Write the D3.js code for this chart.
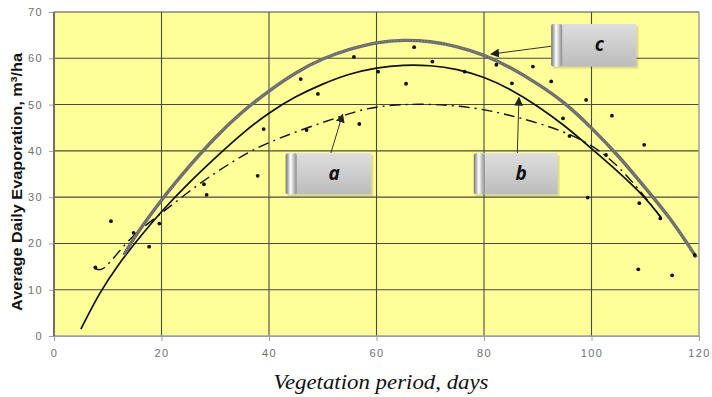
<!DOCTYPE html>
<html>
<head>
<meta charset="utf-8">
<script src="https://cdn.jsdelivr.net/npm/d3@7"></script>
<style>
  body { margin: 0; background: #fff; }
  svg { display: block; }
</style>
</head>
<body>
<div id="chart"></div>
<script>
// values
var xTicks = [0, 20, 40, 60, 80, 100, 120];
var yTicks = [0, 10, 20, 30, 40, 50, 60, 70];

var cX = [13, 15, 20, 25, 30, 35, 40, 45, 50, 55, 60, 65, 70, 75, 80, 85, 90, 95, 100, 105, 110, 115, 119.5];
var cY = [17.5, 21.5, 29.5, 36.5, 43, 48.5, 53, 57, 60, 62, 63.5, 64, 63.7, 62.6, 60.8, 58, 54.5, 50.5, 45, 39, 32, 25, 17];

var bX = [5, 8.5, 12, 15, 20, 25, 30, 35, 40, 45, 50, 55, 60, 65, 70, 75, 80, 85, 90, 95, 100, 105, 110, 113];
var bY = [1.5, 9.5, 15.5, 20, 27, 33, 38.5, 43.8, 48.3, 51.8, 54.5, 56.7, 58, 58.6, 58.5, 57.7, 56, 53.3, 49.7, 45.5, 40.5, 35.5, 30, 25.5];

var aX = [7.6, 8.8, 10.5, 13, 15.4, 20, 27, 33, 38, 47, 55.5, 60, 69, 78.5, 86, 94.5, 102, 108, 113];
var aY = [14.6, 14.0, 16, 19.5, 22.5, 26.5, 33, 37.5, 41, 45, 48.3, 49.7, 50.3, 49.4, 47.4, 44.5, 40.2, 33, 25.5];

var dotX = [7.7, 10.6, 14.8, 17.7, 19.6, 27.9, 28.4, 37.9, 39, 45.9, 47, 49.1, 55.8, 56.8, 60.3, 65.5, 67, 70.4, 76.4, 82.3, 85.2, 89.1, 92.5, 94.7, 95.9, 99, 99.3, 102.7, 103.8, 108.7, 108.9, 109.8, 112.8, 115, 119.2];
var dotY = [14.8, 24.8, 22.3, 19.3, 24.3, 32.8, 30.5, 34.6, 44.7, 55.5, 44.5, 52.3, 60.3, 45.8, 57.1, 54.5, 62.4, 59.3, 57.1, 58.6, 54.6, 58.2, 55, 47, 43.2, 51, 29.9, 39.1, 47.6, 14.4, 28.7, 41.3, 25.4, 13.1, 17.5];

var calloutLabels = ["a", "b", "c"];

var width = 712, height = 397;
var margin = {top: 12, right: 13, bottom: 61, left: 54};
var w = width - margin.left - margin.right;
var h = height - margin.top - margin.bottom;

var svg = d3.select("#chart").append("svg")
  .attr("width", width)
  .attr("height", height);

var defs = svg.append("defs");
var bodyGrad = defs.append("linearGradient").attr("id", "boxBody")
  .attr("x1", 0).attr("y1", 0).attr("x2", 0).attr("y2", 1);
bodyGrad.append("stop").attr("offset", "0%").attr("stop-color", "#dedede");
bodyGrad.append("stop").attr("offset", "100%").attr("stop-color", "#bcbcbc");
var capGrad = defs.append("linearGradient").attr("id", "boxCap")
  .attr("x1", 0).attr("y1", 0).attr("x2", 1).attr("y2", 0);
capGrad.append("stop").attr("offset", "0%").attr("stop-color", "#707070");
capGrad.append("stop").attr("offset", "45%").attr("stop-color", "#ffffff");
capGrad.append("stop").attr("offset", "100%").attr("stop-color", "#8a8a8a");
defs.append("marker").attr("id", "arrow")
  .attr("viewBox", "0 0 10 10").attr("refX", 9).attr("refY", 5)
  .attr("markerWidth", 9).attr("markerHeight", 9)
  .attr("markerUnits", "userSpaceOnUse")
  .attr("orient", "auto")
  .append("path").attr("d", "M0,0L10,5L0,10z").attr("fill", "#222");

var g = svg.append("g")
  .attr("transform", "translate(" + margin.left + "," + margin.top + ")");

var xScale = d3.scaleLinear().domain([0, 120]).range([0, w]);
var yScale = d3.scaleLinear().domain([0, 70]).range([h, 0]);

// plot background
g.append("rect")
  .attr("width", w).attr("height", h)
  .attr("fill", "#ffff99");

// grid
g.selectAll(".vgrid")
  .data(xTicks.filter(function(d) { return d < 120; }))
  .enter().append("line")
  .attr("x1", function(d) { return xScale(d); })
  .attr("x2", function(d) { return xScale(d); })
  .attr("y1", 0).attr("y2", h)
  .attr("stroke", "#4a4a40").attr("stroke-width", 1.1);
g.selectAll(".hgrid")
  .data(yTicks.filter(function(d) { return d > 0; }))
  .enter().append("line")
  .attr("x1", 0).attr("x2", w)
  .attr("y1", function(d) { return yScale(d); })
  .attr("y2", function(d) { return yScale(d); })
  .attr("stroke", "#4a4a40").attr("stroke-width", 1.1);

// right / bottom border in grey
g.append("line").attr("x1", w).attr("x2", w).attr("y1", 0).attr("y2", h)
  .attr("stroke", "#a0a0a0").attr("stroke-width", 1.5);
g.append("line").attr("x1", 0).attr("x2", w).attr("y1", h).attr("y2", h)
  .attr("stroke", "#a0a0a0").attr("stroke-width", 1.5);

// axes
var axisLeft = d3.axisLeft(yScale).tickValues(yTicks).tickSize(5).tickPadding(6);
var yAxisG = g.append("g").call(axisLeft);
var axisBottom = d3.axisBottom(xScale).tickValues(xTicks).tickSize(5).tickPadding(8);
var xAxisG = g.append("g").attr("transform", "translate(0," + h + ")").call(axisBottom);
[yAxisG, xAxisG].forEach(function(ax) {
  ax.select(".domain").attr("stroke", "#a0a0a0");
  ax.selectAll(".tick line").attr("stroke", "#a0a0a0");
  ax.selectAll("text")
    .attr("fill", "#707070")
    .style("font-family", "'Liberation Sans', Arial, sans-serif")
    .style("font-size", "11px")
    .style("letter-spacing", "1.4px");
});
// left edge is dark like the grid
g.append("line").attr("x1", 0).attr("x2", 0).attr("y1", 0).attr("y2", h)
  .attr("stroke", "#4a4a40").attr("stroke-width", 1.1);

// curves
function pts(xs, ys) {
  return xs.map(function(x, i) { return [x, ys[i]]; });
}
var line = d3.line()
  .x(function(d) { return xScale(d[0]); })
  .y(function(d) { return yScale(d[1]); })
  .curve(d3.curveBasis);

g.append("path")
  .datum(pts(aX, aY))
  .attr("d", line)
  .attr("fill", "none")
  .attr("stroke", "#111")
  .attr("stroke-width", 1.4)
  .attr("stroke-dasharray", "11,5,2,5");

g.append("path")
  .datum(pts(bX, bY))
  .attr("d", line)
  .attr("fill", "none")
  .attr("stroke", "#111")
  .attr("stroke-width", 1.7);

g.append("path")
  .datum(pts(cX, cY))
  .attr("d", line)
  .attr("fill", "none")
  .attr("stroke", "#6b6b6b")
  .attr("stroke-width", 3.4);
g.append("path")
  .datum(pts(cX, cY))
  .attr("d", line)
  .attr("fill", "none")
  .attr("stroke", "#9a9a9a")
  .attr("stroke-width", 1)
  .attr("stroke-dasharray", "1,2");

// observed points
g.selectAll(".dot")
  .data(pts(dotX, dotY))
  .enter().append("circle")
  .attr("cx", function(d) { return xScale(d[0]); })
  .attr("cy", function(d) { return yScale(d[1]); })
  .attr("r", 1.9)
  .attr("fill", "#111");

// callouts (data coords)
var callouts = [
  {x0: 43.1, x1: 59.05, y0: 39.5, y1: 30.6, from: [51.5, 39.5], to: [53.7, 47.9]},
  {x0: 78.1, x1: 93.7, y0: 39.5, y1: 30.6, from: [86.2, 39.5], to: [86.5, 51.5]},
  {x0: 92.5, x1: 108.4, y0: 67.4, y1: 58.2, from: [92.5, 62.6], to: [81.3, 60.9]}
];

callouts.forEach(function(c, i) {
  g.append("line")
    .attr("x1", xScale(c.from[0])).attr("y1", yScale(c.from[1]))
    .attr("x2", xScale(c.to[0])).attr("y2", yScale(c.to[1]))
    .attr("stroke", "#333").attr("stroke-width", 1)
    .attr("marker-end", "url(#arrow)");

  var bx = xScale(c.x0), bw = xScale(c.x1) - xScale(c.x0);
  var by = yScale(c.y0), bh = yScale(c.y1) - yScale(c.y0);
  var capW = 11;
  var box = g.append("g");
  box.append("rect")
    .attr("x", bx + 2).attr("y", by + 2).attr("width", bw).attr("height", bh)
    .attr("fill", "#000").attr("opacity", 0.12);
  box.append("rect")
    .attr("x", bx + capW - 2).attr("y", by).attr("width", bw - capW + 2).attr("height", bh)
    .attr("fill", "url(#boxBody)");
  box.append("rect")
    .attr("x", bx).attr("y", by).attr("width", capW).attr("height", bh)
    .attr("rx", 2)
    .attr("fill", "url(#boxCap)");
  box.append("text")
    .attr("x", bx + capW + (bw - capW) / 2)
    .attr("y", by + bh / 2 + 6)
    .attr("text-anchor", "middle")
    .style("font-family", "'Open Sans', 'Liberation Sans', sans-serif")
    .style("font-size", "19px")
    .style("font-weight", "bold")
    .style("font-style", "italic")
    .attr("fill", "#111")
    .text(calloutLabels[i]);
});

// axis titles
var yTitle = svg.append("text")
  .attr("transform", "translate(22," + (margin.top + h / 2 + 8) + ") rotate(-90)")
  .attr("text-anchor", "middle")
  .attr("textLength", 258)
  .attr("lengthAdjust", "spacingAndGlyphs")
  .style("font-family", "'Liberation Sans', Arial, sans-serif")
  .style("font-size", "14px")
  .style("font-weight", "bold")
  .attr("fill", "#111");
yTitle.append("tspan").text("Average Daily Evaporation, m");
yTitle.append("tspan").attr("dy", -5).style("font-size", "9px").text("3");
yTitle.append("tspan").attr("dy", 5).text("/ha");

svg.append("text")
  .attr("x", 381)
  .attr("y", 389)
  .attr("text-anchor", "middle")
  .attr("textLength", 215)
  .attr("lengthAdjust", "spacingAndGlyphs")
  .style("font-family", "'Times New Roman', 'Liberation Serif', Times, serif")
  .style("font-size", "20px")
  .style("font-style", "italic")
  .attr("fill", "#111")
  .text("Vegetation period, days");
</script>
</body>
</html>
